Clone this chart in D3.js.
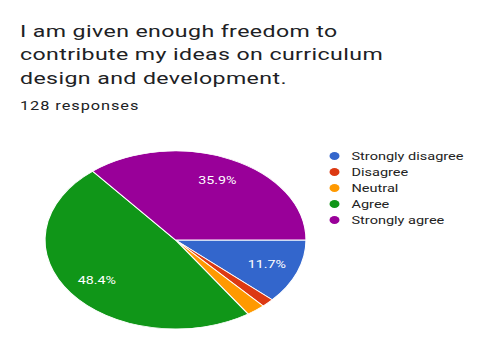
<!DOCTYPE html>
<html>
<head>
<meta charset="utf-8">
<script src="https://cdn.jsdelivr.net/npm/d3@7"></script>
<style>
  body { margin: 0; background: #fff; }
  text { font-family: Roboto, "Noto Sans", Arial, sans-serif; }
</style>
</head>
<body>
<div id="chart"></div>
<script>
// data
const titleLines = ["I am given enough freedom to", "contribute my ideas on curriculum", "design and development."];
const subtitle = "128 responses";
const categories = ["Strongly disagree", "Disagree", "Neutral", "Agree", "Strongly agree"];
const counts = [15, 2, 3, 62, 46];
const colors = ["#3366cc", "#dc3912", "#ff9900", "#109618", "#990099"];

const width = 485, height = 354;
const sx = 1.36; // the picture is stretched sideways

const svg = d3.select("#chart").append("svg")
    .attr("width", width)
    .attr("height", height);

// title
const title = svg.append("g").attr("transform", `translate(20,0) scale(${sx},1)`);
title.selectAll("text")
    .data(titleLines)
    .enter()
    .append("text")
    .attr("x", 0)
    .attr("y", (d, i) => 37 + i * 23.5)
    .attr("font-size", "17px")
    .attr("letter-spacing", "0.3px")
    .attr("fill", "#202124")
    .text(d => d);

title.append("text")
    .attr("x", 0)
    .attr("y", 110.5)
    .attr("font-size", "12px")
    .attr("letter-spacing", "0.7px")
    .attr("fill", "#202124")
    .text(subtitle);

// pie
const total = d3.sum(counts);
const rx = 130.5, ry = 89;
const pie = d3.pie().sort(null)
    .startAngle(Math.PI / 2)
    .endAngle(Math.PI / 2 + 2 * Math.PI);
const arc = d3.arc().innerRadius(0).outerRadius(ry);
const arcs = pie(counts);

const pieG = svg.append("g")
    .attr("transform", `translate(175.5,240)`);

pieG.append("g")
    .attr("transform", `scale(${rx / ry},1)`)
    .selectAll("path")
    .data(arcs)
    .enter()
    .append("path")
    .attr("d", arc)
    .attr("fill", (d, i) => colors[i])
    .attr("stroke", "#fff")
    .attr("stroke-width", 0.8);

const labelArc = d3.arc().innerRadius(ry * 0.75).outerRadius(ry * 0.75);
pieG.selectAll(".lbl")
    .data(arcs.filter(d => d.value / total > 0.05))
    .enter()
    .append("text")
    .attr("class", "lbl")
    .attr("transform", d => {
        const c = labelArc.centroid(d);
        return `translate(${c[0] * rx / ry},${c[1] + 4}) scale(${sx},1)`;
    })
    .attr("text-anchor", "middle")
    .attr("font-size", "10.5px")
    .attr("fill", "#fff")
    .text(d => (d.value / total * 100).toFixed(1) + "%");

// legend
const legend = svg.append("g").attr("transform", "translate(334.5,156)");
const item = legend.selectAll("g")
    .data(categories)
    .enter()
    .append("g")
    .attr("transform", (d, i) => `translate(0,${i * 16})`);

item.append("ellipse")
    .attr("rx", 5)
    .attr("ry", 4)
    .attr("fill", (d, i) => colors[i]);

item.append("text")
    .attr("transform", `translate(17,4) scale(1.32,1)`)
    .attr("font-size", "11px")
    .attr("fill", "#222")
    .text(d => d);
</script>
</body>
</html>
